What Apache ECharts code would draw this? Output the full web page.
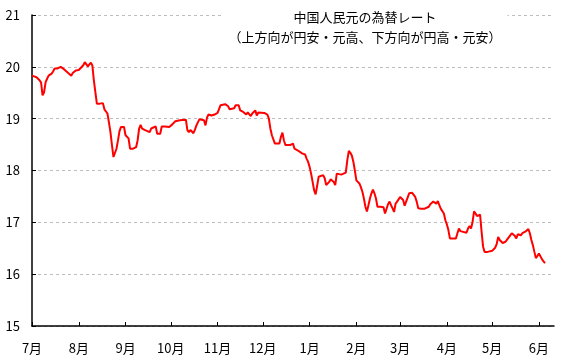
<!DOCTYPE html>
<html>
<head>
<meta charset="utf-8">
<script src="https://cdn.jsdelivr.net/npm/echarts@6/dist/echarts.min.js"></script>
<style>
html,body{margin:0;padding:0;background:#fff;}
#chart{width:567px;height:360px;}
</style>
</head>
<body>
<div id="chart"></div>
<script>
const titleText = '中国人民元の為替レート\n（上方向が円安・元高、下方向が円高・元安）';
const axisMin = '2015-07-01';
const axisMax = '2016-06-11';
const yTicks = [15, 16, 17, 18, 19, 20, 21];

const dates = [
'2015-07-01','2015-07-02','2015-07-04','2015-07-06','2015-07-07','2015-07-08','2015-07-09','2015-07-10','2015-07-11','2015-07-12',
'2015-07-14','2015-07-15','2015-07-16','2015-07-18','2015-07-20','2015-07-22','2015-07-23','2015-07-25','2015-07-27','2015-07-28',
'2015-07-30','2015-08-01','2015-08-02','2015-08-04','2015-08-05','2015-08-06','2015-08-07','2015-08-08','2015-08-09','2015-08-10',
'2015-08-11','2015-08-12','2015-08-13','2015-08-14','2015-08-15','2015-08-17','2015-08-18','2015-08-20','2015-08-21','2015-08-22',
'2015-08-23','2015-08-24','2015-08-25','2015-08-26','2015-08-27','2015-08-28','2015-08-29','2015-08-31','2015-09-01','2015-09-02',
'2015-09-03','2015-09-04','2015-09-06','2015-09-08','2015-09-09','2015-09-10','2015-09-11','2015-09-12','2015-09-14','2015-09-15',
'2015-09-17','2015-09-18','2015-09-19','2015-09-21','2015-09-22','2015-09-24','2015-09-25','2015-09-27','2015-09-28','2015-09-30',
'2015-10-02','2015-10-04','2015-10-05','2015-10-07','2015-10-08','2015-10-11','2015-10-12','2015-10-13','2015-10-14','2015-10-16',
'2015-10-17','2015-10-18','2015-10-20','2015-10-21','2015-10-23','2015-10-24','2015-10-25','2015-10-26','2015-10-28','2015-10-30',
'2015-11-01','2015-11-02','2015-11-03','2015-11-04','2015-11-06','2015-11-08','2015-11-09','2015-11-10','2015-11-12','2015-11-13',
'2015-11-15','2015-11-16','2015-11-18','2015-11-19','2015-11-20','2015-11-21','2015-11-23','2015-11-24','2015-11-26','2015-11-27',
'2015-11-28','2015-12-02','2015-12-04','2015-12-05','2015-12-06','2015-12-07','2015-12-08','2015-12-09','2015-12-10','2015-12-12',
'2015-12-13','2015-12-14','2015-12-15','2015-12-16','2015-12-19','2015-12-21','2015-12-22','2015-12-24','2015-12-25','2015-12-27',
'2015-12-28','2015-12-29','2015-12-30','2015-12-31','2016-01-01','2016-01-02','2016-01-03','2016-01-04','2016-01-05','2016-01-06',
'2016-01-07','2016-01-08','2016-01-10','2016-01-11','2016-01-12','2016-01-13','2016-01-14','2016-01-15','2016-01-17','2016-01-18',
'2016-01-19','2016-01-20','2016-01-22','2016-01-23','2016-01-25','2016-01-26','2016-01-27','2016-01-28','2016-01-29','2016-01-30',
'2016-01-31','2016-02-01','2016-02-02','2016-02-03','2016-02-04','2016-02-05','2016-02-06','2016-02-07','2016-02-08','2016-02-09',
'2016-02-10','2016-02-11','2016-02-12','2016-02-13','2016-02-14','2016-02-15','2016-02-17','2016-02-18','2016-02-19','2016-02-20',
'2016-02-21','2016-02-22','2016-02-23','2016-02-24','2016-02-25','2016-02-26','2016-02-27','2016-02-28','2016-02-29','2016-03-01',
'2016-03-02','2016-03-03','2016-03-04','2016-03-05','2016-03-06','2016-03-07','2016-03-09','2016-03-10','2016-03-11','2016-03-12',
'2016-03-13','2016-03-15','2016-03-17','2016-03-18','2016-03-20','2016-03-21','2016-03-23','2016-03-24','2016-03-25','2016-03-26',
'2016-03-27','2016-03-28','2016-03-29','2016-03-30','2016-03-31','2016-04-01','2016-04-02','2016-04-03','2016-04-05','2016-04-07',
'2016-04-08','2016-04-09','2016-04-10','2016-04-11','2016-04-14','2016-04-15','2016-04-16','2016-04-17','2016-04-18','2016-04-19',
'2016-04-20','2016-04-21','2016-04-22','2016-04-23','2016-04-24','2016-04-25','2016-04-26','2016-04-28','2016-04-29','2016-05-01',
'2016-05-03','2016-05-04','2016-05-05','2016-05-06','2016-05-08','2016-05-10','2016-05-11','2016-05-13','2016-05-14','2016-05-16',
'2016-05-17','2016-05-18','2016-05-20','2016-05-21','2016-05-23','2016-05-25','2016-05-26','2016-05-27','2016-05-28','2016-05-29',
'2016-05-30','2016-05-31','2016-06-01','2016-06-02','2016-06-03','2016-06-04','2016-06-05'
];

const rates = [
19.83,19.85,19.80,19.74,19.70,19.45,19.51,19.70,19.77,19.83,
19.87,19.91,19.97,19.97,20.00,19.96,19.95,19.88,19.83,19.88,
19.93,19.94,19.94,20.03,20.09,20.08,20.01,20.04,20.08,20.03,
19.74,19.51,19.29,19.26,19.29,19.30,19.18,19.10,18.93,18.74,
18.49,18.26,18.29,18.42,18.58,18.76,18.84,18.84,18.68,18.65,
18.62,18.42,18.42,18.45,18.58,18.81,18.88,18.81,18.78,18.81,
18.74,18.81,18.78,18.85,18.71,18.71,18.85,18.85,18.87,18.84,
18.89,18.95,18.92,18.97,18.98,18.98,18.78,18.74,18.78,18.72,
18.79,18.87,18.99,18.98,18.97,18.87,19.02,19.08,19.06,19.08,
19.11,19.14,19.26,19.28,19.28,19.24,19.18,19.15,19.20,19.26,
19.26,19.16,19.13,19.11,19.08,19.12,19.05,19.10,19.16,19.06,
19.12,19.11,19.08,19.00,18.81,18.68,18.69,18.52,18.49,18.52,
18.65,18.73,18.58,18.49,18.49,18.52,18.42,18.39,18.37,18.33,
18.35,18.31,18.23,18.17,18.07,17.94,17.78,17.62,17.54,17.70,
17.88,17.91,17.91,17.85,17.72,17.75,17.78,17.83,17.78,17.72,
17.94,17.97,17.92,17.92,17.96,18.20,18.38,18.34,18.29,18.17,
18.00,17.81,17.78,17.75,17.68,17.59,17.46,17.30,17.21,17.33,
17.46,17.56,17.63,17.56,17.46,17.30,17.30,17.29,17.29,17.17,
17.20,17.35,17.40,17.33,17.27,17.20,17.36,17.40,17.43,17.49,
17.46,17.43,17.32,17.40,17.41,17.56,17.57,17.54,17.49,17.40,
17.27,17.26,17.26,17.28,17.30,17.35,17.40,17.41,17.36,17.41,
17.33,17.26,17.24,17.17,17.04,16.96,16.85,16.69,16.69,16.69,
16.79,16.88,16.83,16.80,16.80,16.88,16.93,16.88,17.00,17.21,
17.17,17.12,17.10,17.15,16.82,16.53,16.43,16.43,16.40,16.45,
16.51,16.58,16.72,16.66,16.60,16.63,16.67,16.75,16.79,16.74,
16.69,16.77,16.75,16.79,16.82,16.87,16.79,16.66,16.56,16.43,
16.31,16.35,16.40,16.37,16.29,16.26,16.21
];

const FONT = '"Noto Sans CJK JP", "Liberation Sans", sans-serif';
const seriesData = dates.map((d, i) => [d, rates[i]]);

const chart = echarts.init(document.getElementById('chart'), null, {renderer: 'canvas'});
chart.setOption({
  animation: false,
  backgroundColor: '#ffffff',
  title: {
    text: titleText,
    left: 359,
    top: 5,
    textAlign: 'center',
    backgroundColor: '#ffffff',
    padding: [2, 6, 2, 6],
    z: 10,
    textStyle: {
      fontFamily: FONT,
      fontSize: 13,
      fontWeight: 'normal',
      color: '#000',
      lineHeight: 20
    }
  },
  grid: {left: 32, right: 13, top: 15, bottom: 34, containLabel: false},
  xAxis: {
    type: 'time',
    min: axisMin,
    max: axisMax,
    splitNumber: 12,
    minInterval: 28 * 86400000,
    maxInterval: 31 * 86400000,
    axisLine: {show: true, lineStyle: {color: '#000', width: 1.5}},
    axisTick: {show: true, inside: true, length: 4, lineStyle: {color: '#000', width: 1}},
    splitLine: {show: false},
    minorTick: {show: false},
    axisLabel: {
      fontFamily: FONT,
      fontSize: 13,
      color: '#000',
      margin: 16,
      hideOverlap: false,
      showMinLabel: true,
      showMaxLabel: false,
      formatter: function (v) { return (new Date(v).getMonth() + 1) + '月'; }
    }
  },
  yAxis: {
    type: 'value',
    min: yTicks[0],
    max: yTicks[yTicks.length - 1],
    interval: 1,
    axisLine: {show: true, lineStyle: {color: '#000', width: 1.5}},
    axisTick: {show: true, inside: true, length: 4, lineStyle: {color: '#000'}},
    splitLine: {show: true, lineStyle: {color: '#bdbdbd', type: [3, 3], width: 1}},
    axisLabel: {
      fontFamily: FONT,
      fontSize: 13,
      color: '#000',
      margin: 12
    }
  },
  series: [{
    type: 'line',
    data: seriesData,
    showSymbol: false,
    symbol: 'none',
    lineStyle: {color: '#ff0000', width: 2},
    itemStyle: {color: '#ff0000'}
  }]
});
</script>
</body>
</html>
